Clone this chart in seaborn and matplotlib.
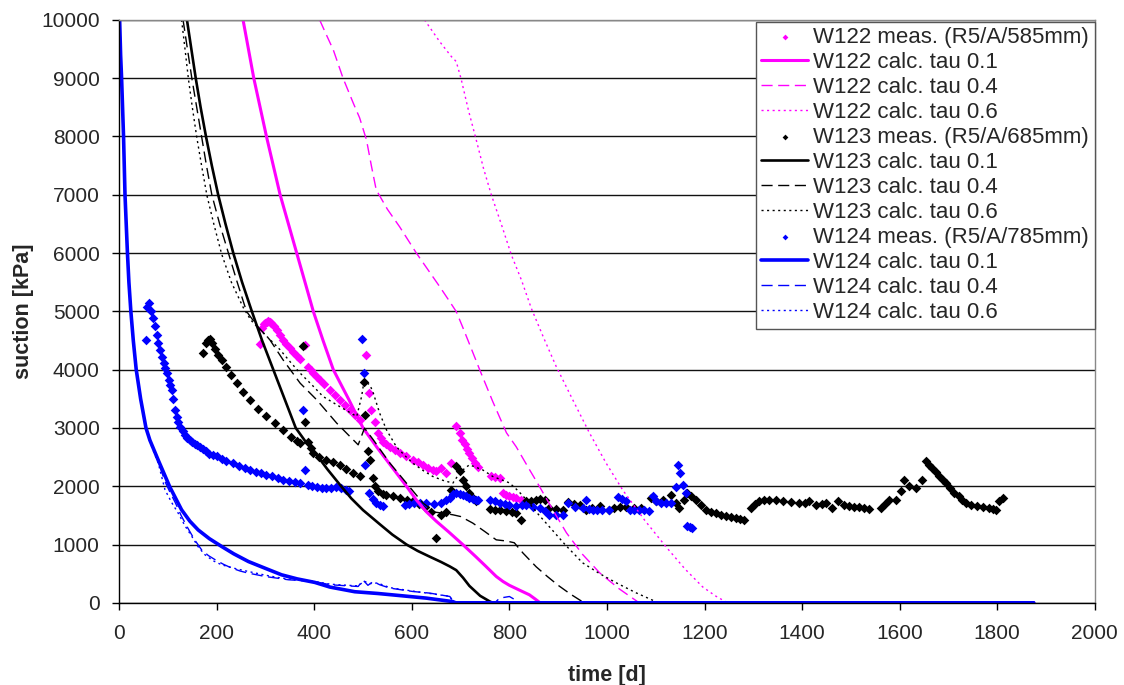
import matplotlib
matplotlib.use("Agg")
import matplotlib.pyplot as plt
import seaborn as sns

# ---- measured data (time [d], suction [kPa]) ----
w122_meas_t = [289, 292, 296, 299, 303, 306, 309, 312, 317, 323, 330, 336, 343, 350, 357, 364, 371,
               381, 388, 393, 398, 405, 412, 420, 432, 442, 452, 462, 473, 483, 493,
               507, 512, 517, 524, 531, 536, 541, 548, 555, 565, 575, 589, 603, 613, 623, 633, 643,
               650, 660, 671, 681, 690, 698, 703, 708, 713, 718, 724, 729, 735,
               763, 770, 780, 787, 793, 800, 807, 814, 824]
w122_meas_s = [4442, 4711, 4780, 4797, 4820, 4826, 4815, 4797, 4750, 4683, 4600, 4511, 4440, 4369, 4300, 4226, 4183,
               4426, 4053, 4000, 3940, 3880, 3825, 3760, 3654, 3570, 3482, 3400, 3310, 3220, 3139,
               4254, 3607, 3310, 3110, 2910, 2830, 2767, 2720, 2681, 2620, 2567, 2510, 2453, 2410, 2367, 2320, 2281,
               2253, 2310, 2224, 2396, 3036, 2910, 2800, 2720, 2640, 2567, 2480, 2396, 2330,
               2167, 2150, 2138, 1881, 1850, 1824, 1810, 1796, 1767]

w123_meas_t = [171, 178, 183, 186, 190, 196, 203, 210, 220, 230, 241, 254, 268, 285, 302, 319, 336, 353, 365, 371,
               376, 381, 388, 393, 398, 410, 425, 438, 452, 465, 480, 493,
               502, 505, 510, 514, 521, 524, 531, 540, 548, 561, 575, 590, 603, 615, 628, 640,
               650, 660, 671, 681, 690, 698, 705, 712, 718, 725, 732,
               760, 770, 780, 794, 805, 814, 824, 835, 845, 855, 862, 872, 882, 895, 910, 920, 932, 944, 957,
               970, 985, 1004, 1015, 1026, 1040, 1055, 1070, 1090, 1101, 1115, 1131, 1141, 1148, 1158, 1165,
               1172, 1183, 1193, 1203, 1214, 1224, 1234, 1244, 1254, 1264, 1272, 1281,
               1295, 1303, 1312, 1322, 1333, 1346, 1360, 1377, 1394, 1405, 1415, 1428, 1440, 1449, 1462, 1473,
               1485, 1496, 1507, 1517, 1527, 1537, 1561, 1570, 1578, 1592, 1602, 1608, 1620, 1633, 1646, 1653,
               1660, 1667, 1674, 1681, 1688, 1694, 1704, 1712, 1721, 1728, 1735, 1747, 1759, 1771, 1783, 1792,
               1798, 1803, 1811]
w123_meas_s = [4293, 4455, 4511, 4520, 4455, 4360, 4254, 4160, 4053, 3900, 3769, 3620, 3482, 3330, 3196, 3080, 2967, 2850, 2780, 2739,
               4397, 3110, 2767, 2650, 2567, 2500, 2453, 2410, 2367, 2300, 2230, 2167,
               3796, 3226, 2600, 2453, 2138, 2010, 1910, 1870, 1853, 1824, 1796, 1770, 1738, 1700, 1640, 1566,
               1109, 1509, 1555, 1938, 2355, 2253, 2110, 1996, 1881, 1800, 1738,
               1607, 1600, 1590, 1583, 1560, 1538, 1424, 1738, 1750, 1770, 1778, 1767, 1624, 1610, 1595, 1721, 1700, 1681, 1595,
               1620, 1652, 1595, 1620, 1641, 1640, 1630, 1620, 1796, 1738, 1760, 1853, 1710, 1624, 1767, 1881,
               1840, 1767, 1680, 1595, 1560, 1538, 1510, 1481, 1465, 1452, 1430, 1412,
               1624, 1690, 1738, 1760, 1767, 1755, 1738, 1725, 1710, 1720, 1738, 1681, 1700, 1710, 1624, 1738,
               1680, 1652, 1640, 1641, 1620, 1607, 1624, 1690, 1755, 1755, 1910, 2110, 2000, 1967, 2110, 2424,
               2370, 2310, 2240, 2167, 2110, 2053, 1967, 1890, 1824, 1760, 1710, 1680, 1652, 1640, 1624, 1610,
               1595, 1738, 1796]

w124_meas_t = [55, 58, 62, 66, 70, 74, 77, 80, 84, 87, 91, 95, 98, 102, 105, 108, 111, 115, 118, 121, 125,
               130, 135, 140, 145, 150, 155, 160, 166, 172, 178, 185, 192, 200, 210, 220, 234, 245, 257, 268,
               280, 291, 302, 313, 325, 336, 348, 360, 371, 377, 380, 388, 395, 405, 415, 425, 435, 445, 455,
               465, 472, 498, 502, 505, 512, 520, 527, 534, 541, 585, 595, 605, 617, 630, 645, 660, 670, 678,
               685, 691, 698, 705, 712, 718, 725, 732, 736, 760, 770, 780, 790, 800, 814, 825, 835, 848, 862,
               872, 882, 895, 910, 920, 935, 950, 957, 964, 971, 980, 990, 1004, 1022, 1030, 1040, 1047, 1055,
               1065, 1075, 1087, 1094, 1101, 1110, 1121, 1131, 1141, 1145, 1150, 1155, 1162, 1165, 1170, 1174]
w124_meas_s = [4511, 5080, 5140, 5000, 4880, 4740, 4600, 4455, 4340, 4225, 4120, 4020, 3940, 3820, 3730, 3654, 3500, 3310, 3180, 3100, 3024,
               2950, 2880, 2830, 2796, 2760, 2730, 2700, 2681, 2640, 2600, 2560, 2530, 2510, 2470, 2430, 2396, 2350, 2310, 2281,
               2250, 2220, 2196, 2170, 2140, 2110, 2090, 2075, 2063, 3310, 2280, 2024, 2000, 1984, 1975, 1970, 1975, 1980, 1965,
               1940, 1926, 4528, 3950, 2372, 1892, 1783, 1720, 1680, 1652, 1681, 1700, 1705, 1710, 1705, 1700, 1720, 1760, 1801,
               1860, 1881, 1870, 1850, 1830, 1801, 1785, 1767, 1767, 1767, 1740, 1710, 1690, 1670, 1652, 1670, 1681, 1650, 1624,
               1570, 1510, 1510, 1510, 1710, 1650, 1624, 1767, 1610, 1595, 1590, 1590, 1590, 1813, 1780, 1738, 1590, 1590,
               1590, 1585, 1583, 1824, 1738, 1720, 1710, 1720, 1995, 2367, 2224, 2024, 1881, 1309, 1295, 1280]

# ---- calculated curves ----
w122_c1_t = [254, 265, 276, 289, 302, 316, 330, 347, 364, 381, 398, 418, 439, 470, 500, 530, 560, 589, 609, 630,
             650, 675, 705, 730, 750, 773, 787, 800, 820, 841, 852, 863, 1875]
w122_c1_s = [10000, 9500, 9000, 8500, 8000, 7500, 7000, 6500, 6000, 5500, 5000, 4500, 4000, 3500, 3000, 2650, 2320, 2000, 1767, 1560,
             1400, 1220, 995, 800, 640, 452, 365, 300, 220, 137, 70, 0, 0]
w122_c4_t = [411, 425, 439, 459, 480, 493, 507, 517, 527, 550, 575, 609, 630, 657, 675, 691, 704, 720, 739, 766, 794,
             814, 838, 862, 890, 917, 950, 985, 1025, 1066, 1875]
w122_c4_s = [10000, 9740, 9485, 9000, 8571, 8319, 7942, 7500, 7084, 6750, 6450, 6003, 5750, 5425, 5200, 4997, 4734, 4400, 4000, 3450, 2916,
             2676, 2330, 1990, 1580, 1200, 830, 515, 240, 0, 0]
w122_c6_t = [626, 657, 681, 691, 701, 716, 732, 747, 763, 784, 804, 825, 845, 870, 896, 930, 964, 998, 1032, 1077,
             1121, 1160, 1196, 1222, 1247, 1875]
w122_c6_s = [10000, 9628, 9371, 9285, 8988, 8450, 7942, 7450, 6998, 6480, 5969, 5530, 5050, 4550, 4053, 3480, 2916, 2400, 1938, 1420,
             961, 580, 274, 120, 0, 0]

w123_c1_t = [139, 148, 157, 167, 178, 190, 203, 218, 234, 252, 272, 293, 316, 339, 362, 380, 400, 427, 455, 476, 500,
             534, 560, 589, 612, 637, 660, 678, 691, 705, 718, 740, 760, 766, 1875]
w123_c1_s = [10000, 9500, 9000, 8500, 8000, 7500, 7000, 6500, 6000, 5500, 5000, 4500, 4000, 3500, 3000, 2790, 2590, 2290, 2000, 1790, 1590,
             1350, 1170, 1000, 890, 790, 700, 623, 560, 430, 290, 120, 22, 0, 0]
w123_c4_t = [131, 140, 149, 159, 169, 179, 190, 206, 224, 242, 261, 283, 309, 336, 371, 405, 446, 473, 490, 503, 521,
             555, 589, 623, 648, 664, 684, 700, 725, 750, 773, 794, 810, 828, 855, 878, 900, 925, 950, 962, 1875]
w123_c4_s = [10000, 9500, 9000, 8500, 8000, 7500, 7000, 6500, 6000, 5500, 5000, 4750, 4511, 4168, 3768, 3482, 3082, 2853, 2710, 2996, 2796,
             2396, 2053, 1710, 1554, 1538, 1510, 1480, 1367, 1220, 1080, 1060, 1030, 852, 617, 450, 300, 150, 17, 0, 0]
w123_c6_t = [128, 135, 142, 150, 159, 169, 180, 194, 210, 230, 255, 270, 289, 310, 330, 350, 371, 395, 418, 452, 487,
             497, 502, 514, 521, 534, 548, 568, 585, 602, 623, 643, 664, 684, 700, 718, 745, 766, 800, 818, 835,
             858, 882, 915, 950, 985, 1019, 1060, 1101, 1106, 1875]
w123_c6_s = [10000, 9500, 8988, 8500, 7993, 7500, 6986, 6500, 5986, 5500, 5055, 4850, 4683, 4510, 4340, 4140, 3940, 3740, 3539, 3367, 3196,
             3539, 3800, 3740, 3597, 3254, 2967, 2681, 2530, 2396, 2270, 2167, 2100, 2053, 2250, 2367, 2281, 2167, 2058, 1920, 1767,
             1530, 1304, 990, 686, 500, 343, 170, 17, 0, 0]

w124_c1_t = [1, 3, 5, 7, 9, 12, 14.5, 17, 20, 24, 29, 35, 44, 55, 63, 80, 104, 128, 145, 162, 185, 210, 235, 265,
             300, 333, 365, 401, 432, 483, 530, 568, 630, 684, 690, 1875]
w124_c1_s = [10000, 9400, 9000, 8500, 8000, 7000, 6500, 6000, 5500, 5000, 4500, 4000, 3500, 3000, 2790, 2450, 1985, 1595, 1400, 1250,
             1100, 967, 840, 708, 590, 480, 410, 350, 270, 190, 160, 130, 80, 20, 0, 0]
w124_c4_t = [1, 3, 5, 7, 9, 12, 14.5, 17, 20, 24, 29, 35, 44, 55, 63, 80, 94, 104, 115, 127, 139, 154, 169, 183, 197, 214,
             231, 248, 265, 299, 347, 401, 432, 469, 490, 500, 510, 521, 534, 555, 602, 637, 678, 686, 770, 780, 800,
             810, 820, 1875]
w124_c4_s = [10000, 9400, 9000, 8500, 8000, 7000, 6500, 6000, 5500, 5000, 4500, 4000, 3500, 3000, 2780, 2420, 2080, 1900, 1720, 1500, 1309,
             1090, 909, 810, 738, 660, 595, 545, 509, 452, 395, 365, 310, 290, 280, 390, 300, 365, 310, 252, 194, 166, 108, 0,
             0, 80, 108, 60, 0, 0]
w124_c6_t = [1, 3, 5, 7, 9, 12, 14.5, 17, 20, 24, 29, 35, 44, 55, 63, 80, 94, 107, 121, 135, 149, 162, 176, 193, 210,
             237, 265, 299, 333, 367, 401, 432, 469, 490, 502, 515, 530, 555, 602, 637, 678, 686, 1875]
w124_c6_s = [10000, 9400, 9000, 8500, 8000, 7000, 6500, 6000, 5500, 5000, 4500, 4000, 3500, 3000, 2760, 2400, 1938, 1730, 1538, 1320,
             1138, 960, 823, 720, 652, 590, 537, 475, 423, 390, 365, 320, 300, 290, 370, 330, 340, 260, 200, 160, 110, 0, 0]

MAG = "#FF00FF"
BLK = "#000000"
BLU = "#0000FF"
DASH = (0, (8, 4))
DOT = (0, (1.5, 2.5))

sns.set_style("white")
plt.rcParams["font.family"] = ["Liberation Sans", "DejaVu Sans"]

fig, ax = plt.subplots(figsize=(11.24, 6.85), dpi=100)
fig.subplots_adjust(left=0.106, right=0.974, top=0.971, bottom=0.12)

ax.yaxis.grid(True, color="#111111", linewidth=1.0)
ax.set_axisbelow(True)

groups = [
    ("W122", "585mm", MAG, 2.2, w122_meas_t, w122_meas_s,
     [(w122_c1_t, w122_c1_s, "-"), (w122_c4_t, w122_c4_s, DASH), (w122_c6_t, w122_c6_s, DOT)]),
    ("W123", "685mm", BLK, 1.9, w123_meas_t, w123_meas_s,
     [(w123_c1_t, w123_c1_s, "-"), (w123_c4_t, w123_c4_s, DASH), (w123_c6_t, w123_c6_s, DOT)]),
    ("W124", "785mm", BLU, 2.6, w124_meas_t, w124_meas_s,
     [(w124_c1_t, w124_c1_s, "-"), (w124_c4_t, w124_c4_s, DASH), (w124_c6_t, w124_c6_s, DOT)]),
]
taus = ["0.1", "0.4", "0.6"]

for name, depth, col, lw_main, mt, ms, calcs in groups:
    sns.scatterplot(x=mt, y=ms, ax=ax, marker="D", s=24, color=col, linewidth=0,
                    label=f"{name} meas. (R5/A/{depth})")
    for (ct, cs, ls), tau in zip(calcs, taus):
        sns.lineplot(x=ct, y=cs, ax=ax, color=col, estimator=None,
                     linewidth=lw_main if ls == "-" else 1.0, linestyle=ls,
                     label=f"{name} calc. tau {tau}")

ax.set_xlim(0, 2000)
ax.set_ylim(0, 10000)
ax.set_xticks(range(0, 2001, 200))
ax.set_yticks(range(0, 10001, 1000))
ax.tick_params(axis="both", which="major", direction="out", length=5, width=1,
               labelsize=15, color="black", bottom=True, left=True)
ax.tick_params(axis="x", pad=10)
ax.tick_params(axis="y", pad=9)

for side in ["left", "bottom"]:
    ax.spines[side].set_color("black")
    ax.spines[side].set_linewidth(1.0)
for side in ["top", "right"]:
    ax.spines[side].set_color("#888888")
    ax.spines[side].set_linewidth(1.0)

ax.set_xlabel("time [d]", fontsize=15.5, fontweight="bold", labelpad=16)
ax.set_ylabel("suction [kPa]", fontsize=15.5, fontweight="bold", labelpad=5)

handles, labels = ax.get_legend_handles_labels()
leg = ax.legend(handles, labels, loc="upper right", bbox_to_anchor=(1.0, 0.997),
                borderaxespad=0, fontsize=16, frameon=True, fancybox=False,
                framealpha=1, edgecolor="#555555", labelspacing=0.18,
                handlelength=2.1, handletextpad=0.25, borderpad=0.25, markerscale=0.6)
leg.get_frame().set_linewidth(1.0)

fig.savefig("out.png", dpi=100)
